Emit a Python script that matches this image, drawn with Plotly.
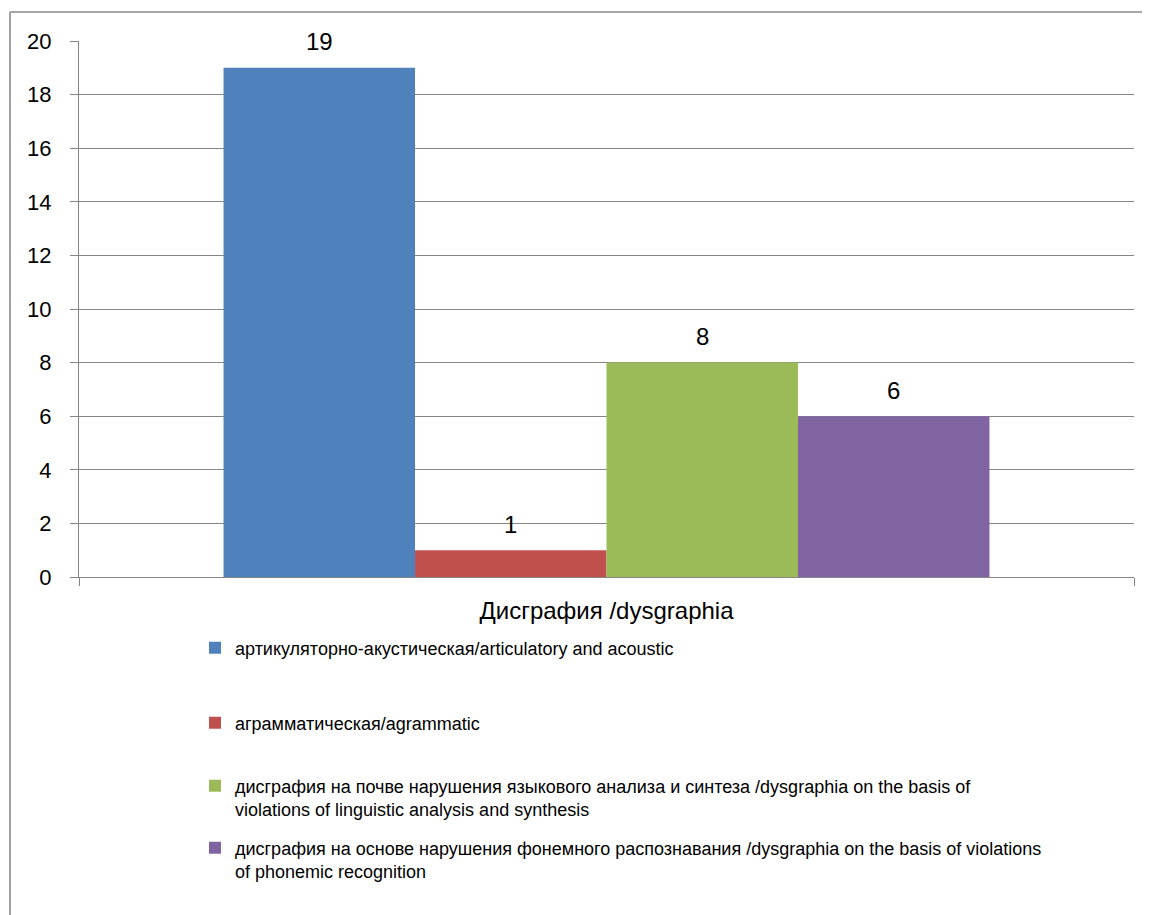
import plotly.graph_objects as go

category = ["Дисграфия /dysgraphia"]
series_names = [
    "артикуляторно-акустическая/articulatory and acoustic",
    "аграмматическая/agrammatic",
    "дисграфия на почве нарушения языкового анализа и синтеза /dysgraphia on the basis of<br>violations of linguistic analysis and synthesis",
    "дисграфия на основе нарушения фонемного распознавания /dysgraphia on the basis of violations<br>of phonemic recognition",
]
values = [19, 1, 8, 6]
colors = ["#4F81BD", "#C0504D", "#9BBB59", "#8064A2"]
y_ticks = [0, 2, 4, 6, 8, 10, 12, 14, 16, 18, 20]

OFF = 8  # page body margin
W, H = 1150 - OFF, 915 - OFF
# plot area in page px
L, R, T, B = 79, 1134, 41, 577

def px_x(p):
    return (p - L) / (R - L)

def px_y(p):
    return (B - p) / (B - T)

FONT = "Liberation Sans"
bargap = 0.274
n = len(values)
bw = (1 - bargap) / n

fig = go.Figure()
legend_ids = ["legend", "legend2", "legend3", "legend4"]
for i, (name, v, c) in enumerate(zip(series_names, values, colors)):
    fig.add_trace(go.Bar(
        x=category, y=[v], name=name,
        marker=dict(color=c, line=dict(width=0)),
        width=bw, offset=-(1 - bargap) / 2 + i * bw,
        legend=legend_ids[i],
        hoverinfo="skip",
    ))
    fig.add_annotation(
        x=-(1 - bargap) / 2 + i * bw + bw / 2, y=v, text=str(v),
        showarrow=False, yshift=26, yanchor="middle",
        font=dict(family=FONT, size=24, color="#000000"),
    )

# legend positions (first-line centres in page px)
leg_y = [648, 723, 786, 848]
leg_left = 195
LEG_FS = 18
layout_legends = {}
for i, lid in enumerate(legend_ids):
    layout_legends[lid] = dict(
        x=px_x(leg_left), xanchor="left", y=px_y(leg_y[i] - 18.5), yanchor="top",
        orientation="v", valign="top",
        font=dict(family=FONT, size=LEG_FS, color="#000000"),
        bgcolor="rgba(0,0,0,0)", itemclick=False, itemdoubleclick=False,
    )

fig.update_layout(
    width=W, height=H,
    margin=dict(l=L - OFF, r=W - (R - OFF), t=T - OFF, b=H - (B - OFF), pad=0),
    paper_bgcolor="#FFFFFF", plot_bgcolor="#FFFFFF",
    barmode="group", bargap=bargap, bargroupgap=0,
    showlegend=True,
    font=dict(family=FONT, color="#000000"),
    **layout_legends,
)
fig.update_xaxes(
    type="category", range=[-0.5, 0.5],
    showline=True, linecolor="#868686", linewidth=1.3,
    ticks="outside", tickson="boundaries", ticklen=8, tickcolor="#868686", tickwidth=1.3,
    tickfont=dict(family=FONT, size=24, color="#000000"),
    ticklabelstandoff=12,
    showgrid=False,
)
fig.update_yaxes(
    range=[0, 20], tickvals=y_ticks,
    showline=True, linecolor="#868686", linewidth=1.3,
    ticks="outside", ticklen=8, tickcolor="#868686", tickwidth=1.3,
    tickfont=dict(family=FONT, size=22, color="#000000"),
    ticklabelstandoff=14,
    showgrid=True, gridcolor="#868686", gridwidth=1.3,
    zeroline=False,
)
# outer chart frame (left and top edges visible)
fig.add_shape(type="line", xref="paper", yref="paper",
              x0=px_x(10), x1=px_x(10), y0=px_y(12), y1=px_y(930),
              line=dict(color="#8A8A8A", width=1.6))
fig.add_shape(type="line", xref="paper", yref="paper",
              x0=px_x(10), x1=px_x(1170), y0=px_y(12), y1=px_y(12),
              line=dict(color="#8A8A8A", width=1.6))

fig.write_html("out.html")
